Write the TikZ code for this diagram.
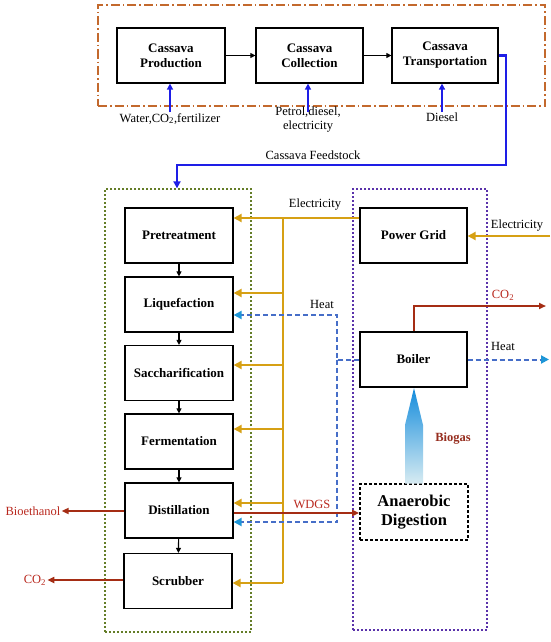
\documentclass[tikz,border=0pt]{standalone}
\usepackage{fontspec}
\setmainfont{Liberation Serif}
\usetikzlibrary{arrows.meta,calc}
\definecolor{gold}{RGB}{214,160,20}
\definecolor{feedblue}{RGB}{30,30,230}
\definecolor{heatblue}{RGB}{70,110,200}
\definecolor{heattip}{RGB}{30,150,215}
\definecolor{co2red}{RGB}{165,45,20}
\definecolor{labred}{RGB}{185,40,30}
\definecolor{oliveg}{RGB}{100,125,40}
\definecolor{purp}{RGB}{90,50,170}
\definecolor{frameor}{RGB}{195,105,45}
\begin{document}
\begin{tikzpicture}[x=1pt,y=-1pt,
  box/.style={draw, line width=1.2pt, minimum width=108pt, minimum height=55pt, inner sep=0pt,
    align=center, font=\bfseries\fontsize{13}{15}\selectfont},
  lab/.style={font=\fontsize{12.5}{13.5}\selectfont, align=center, inner sep=1pt},
  redlab/.style={lab, text=labred},
  flow/.style={line width=1.1pt, -{Triangle[length=5pt,width=5pt]}},
  inarrow/.style={draw=feedblue, line width=2.2pt, -{Triangle[length=6pt,width=6pt]}},
  elec/.style={draw=gold, line width=2.4pt},
  elecarrow/.style={elec, -{Triangle[length=8pt,width=8pt]}},
  heat/.style={draw=heatblue, line width=2pt, dash pattern=on 5pt off 3pt},
  heatarrow/.style={heat, -{Triangle[length=8pt,width=8pt,color=heattip,fill=heattip]}},
  co2/.style={draw=co2red, line width=2pt, -{Triangle[length=7pt,width=6pt]}},
  container/.style={line width=1.3pt, dash pattern=on 2pt off 2pt, inner sep=0pt}
]
\useasboundingbox (0,0) rectangle (550,642);

% containers
\node[draw=frameor, line width=1.5pt, dash pattern=on 9pt off 3pt on 1.5pt off 3pt,
  minimum width=447pt, minimum height=101pt, inner sep=0pt] (frame) at (321.5,55.5) {};
\node[draw=oliveg, container, minimum width=146pt, minimum height=443pt] (green) at (178,410.5) {};
\node[draw=purp, container, minimum width=134pt, minimum height=441pt] (purple) at (420,409.5) {};

% top chain
\node[box] (prod) at (171,55.5) {Cassava\\Production};
\node[box, minimum width=107pt] (coll) at (309.5,55.5) {Cassava\\Collection};
\node[box, minimum width=106pt] (trans) at (445,55.5) {Cassava\\Transportation};
\draw[flow] (prod) -- (coll);
\draw[flow] (coll) -- (trans);

% inputs
\node[lab, anchor=north] (w) at (170,112) {Water,CO\textsubscript{2},fertilizer};
\node[lab, anchor=north] (p) at (308,106) {Petrol,diesel,\\electricity};
\node[lab, anchor=north] (d) at (442,112) {Diesel};
\coordinate (wi) at (170,112);
\coordinate (pi) at (308,112);
\coordinate (di) at (442,112);
\draw[inarrow] (wi) -- (wi |- prod.south);
\draw[inarrow] (pi) -- (pi |- coll.south);
\draw[inarrow] (di) -- (di |- trans.south);

% left column
\node[box] (pre) at (179,235.5) {Pretreatment};
\node[box] (liq) at (179,304.5) {Liquefaction};
\node[box] (sac) at (179,373) {Saccharification};
\node[box] (fer) at (179,441.5) {Fermentation};
\node[box] (dis) at (179,510.5) {Distillation};
\node[box] (scr) at (178,581) {Scrubber};
\draw[flow] (pre) -- (liq);
\draw[flow] (liq) -- (sac);
\draw[flow] (sac) -- (fer);
\draw[flow] (fer) -- (dis);
\draw[flow] (dis) -- (scr);

% feedstock
\coordinate (f1) at (506,165);
\coordinate (f2) at (177,165);
\draw[draw=feedblue, line width=2.2pt, -{Triangle[length=7pt,width=7pt]}]
  (trans.east) -| (f1) -- (f2) -- (f2 |- green.north);
\node[lab] (feedlab) at (313,155) {Cassava Feedstock};

% right column
\node[box, minimum width=107pt] (grid) at (413.5,235.5) {Power Grid};
\node[box, minimum width=107pt] (boil) at (413.5,359.5) {Boiler};
\node[box, dash pattern=on 3pt off 2pt, line width=1.6pt, font=\bfseries\fontsize{16.5}{19.5}\selectfont,
  minimum height=56pt] (ad) at (414,512) {Anaerobic\\Digestion};

% biogas
\shade[top color={rgb,255:red,20;green,140;blue,220}, middle color={rgb,255:red,0;green,200;blue,225},
  bottom color={rgb,255:red,215;green,235;blue,242}]
  (405,483.5) -- (405,425) -- (414,388) -- (423,425) -- (423,483.5) -- cycle;
\node[font=\bfseries\fontsize{12.5}{14}\selectfont, text={rgb,255:red,150;green,45;blue,30}] (biogas) at (453,439) {Biogas};

% electricity
\coordinate (eb) at (283,218);
\coordinate (t1) at ($(pre.east)+(0,-17.5)$);
\coordinate (t2) at ($(liq.east)+(0,-11.5)$);
\coordinate (t3) at ($(sac.east)+(0,-8)$);
\coordinate (t4) at ($(fer.east)+(0,-12.5)$);
\coordinate (t5) at ($(dis.east)+(0,-7.5)$);
\coordinate (t6) at ($(scr.east)+(0,2)$);
\draw[elecarrow] (grid.west |- t1) -- (t1);
\draw[elec] (eb |- t1) -- (eb |- t6);
\draw[elecarrow] (eb |- t2) -- (t2);
\draw[elecarrow] (eb |- t3) -- (t3);
\draw[elecarrow] (eb |- t4) -- (t4);
\draw[elecarrow] (eb |- t5) -- (t5);
\draw[elecarrow] (eb |- t6) -- (t6);
\node[lab] (el1) at (315,205) {Electricity};
\coordinate (ein) at (550,236);
\draw[elecarrow] (ein) -- (grid.east |- ein);
\node[lab] (el2) at (517,226) {Electricity};

% heat
\coordinate (hx) at (337,359.5);
\coordinate (hl) at ($(liq.east)+(0,10.5)$);
\coordinate (hd) at ($(dis.east)+(0,11.5)$);
\draw[heatarrow] (boil.west) -- (hx) |- (hl);
\draw[heatarrow] (hx) |- (hd);
\node[lab] (h1) at (322,304) {Heat};
\coordinate (hr) at (549,359.5);
\draw[heatarrow] (boil.east) -- (hr);
\node[lab] (h2) at (503,346) {Heat};

% CO2 from boiler
\coordinate (c1) at (546,306);
\draw[co2] (boil.north) |- (c1);
\node[redlab] (co2a) at (503,295) {CO\textsubscript{2}};

% WDGS
\coordinate (wd) at ($(dis.east)+(0,2.5)$);
\draw[co2] (wd) -- (wd -| ad.west);
\node[redlab] (wdgs) at (312,504) {WDGS};

% products
\node[redlab] (bio) at (33,511) {Bioethanol};
\draw[co2] (dis.west |- bio) -- (bio.east);
\node[redlab] (co2b) at (35,580) {CO\textsubscript{2}};
\draw[co2] (scr.west |- co2b) -- (co2b.east);
\end{tikzpicture}
\end{document}
